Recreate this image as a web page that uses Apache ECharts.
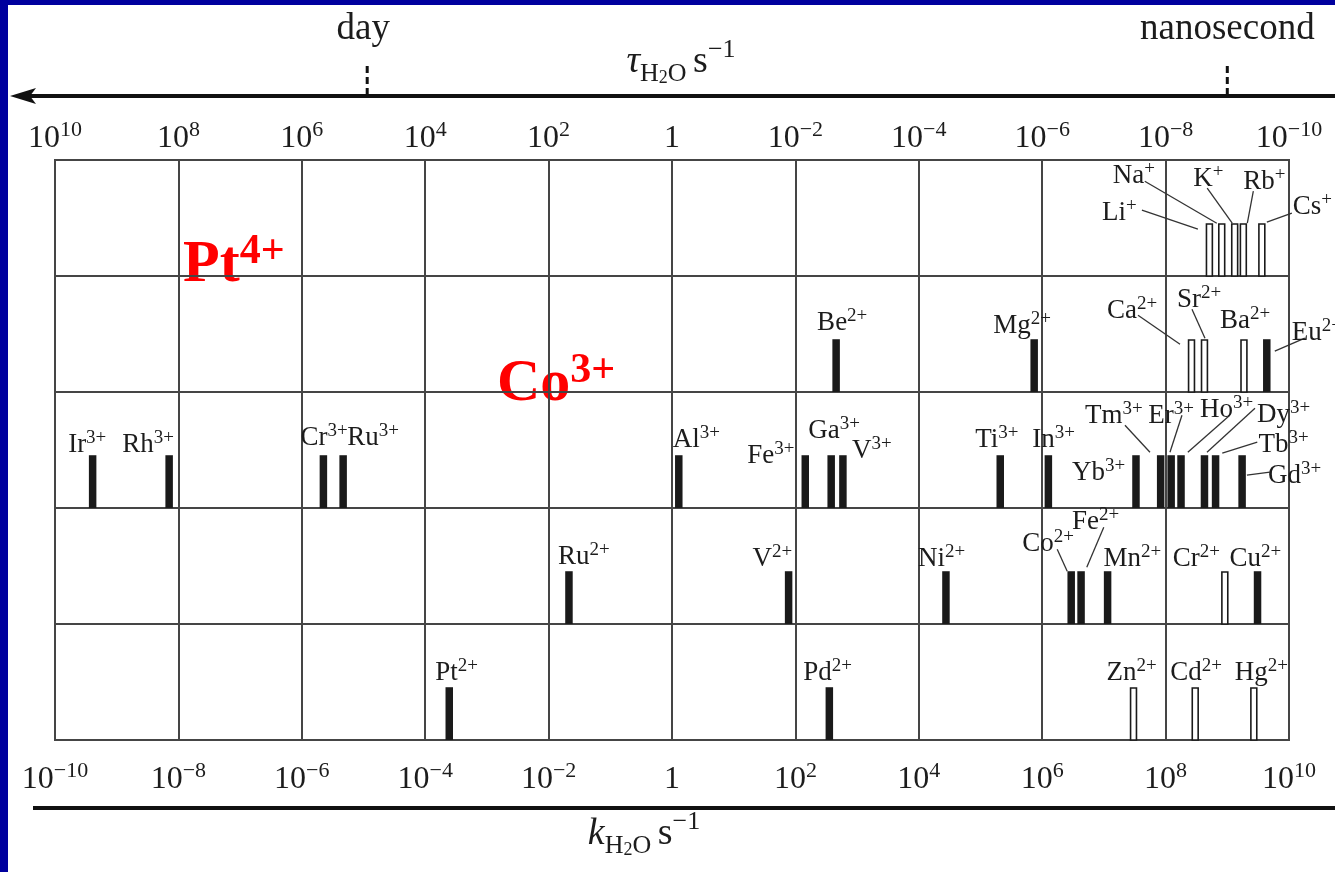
<!DOCTYPE html>
<html><head><meta charset="utf-8">
<script src="https://cdn.jsdelivr.net/npm/echarts@6/dist/echarts.min.js"></script>
<style>html,body{margin:0;padding:0;background:#fff;overflow:hidden}#c{width:1335px;height:872px}</style>
</head><body><div id="c"></div>
<script>
// ---------- DATA ----------
const ionNames   = ['Li','Na','K','Rb','Cs','Be','Mg','Ca','Sr','Ba','Eu','Ir','Rh','Cr','Ru','Al','Fe','Ga','V','Ti','In','Yb','Tm','Er','Ho','Dy','Tb','Gd','Ru','V','Ni','Co','Fe','Mn','Cr','Cu','Pt','Pd','Zn','Cd','Hg'];
const ionCharges = ['+','+','+','+','+','2+','2+','2+','2+','2+','2+','3+','3+','3+','3+','3+','3+','3+','3+','3+','3+','3+','3+','3+','3+','3+','3+','3+','2+','2+','2+','2+','2+','2+','2+','2+','2+','2+','2+','2+','2+'];
// log10 of k(H2O) in s^-1
const logK = [8.71,8.91,9.12,9.26,9.56, 2.66,5.87,8.42,8.63,9.27,9.64,
  -9.39,-8.15,-5.65,-5.33,0.11,2.16,2.58,2.77,5.32,6.10,7.52,7.92,8.09,8.25,8.63,8.81,9.24,
  -1.67,1.89,4.44,6.47,6.63,7.06,8.96,9.49,
  -3.61,2.55,7.48,8.48,9.43];
const rowIndex = [0,0,0,0,0, 1,1,1,1,1,1,
  2,2,2,2,2,2,2,2,2,2,2,2,2,2,2,2,2,
  3,3,3,3,3,3,3,3,
  4,4,4,4,4];
const openBar = [1,1,1,1,1, 0,0,1,1,1,0,
  0,0,0,0,0,0,0,0,0,0,0,0,0,0,0,0,0,
  0,0,0,0,0,0,1,0,
  0,0,1,1,1];
const tickValues = [-10,-8,-6,-4,-2,0,2,4,6,8,10];
const timeMarkerNames = ['day','nanosecond'];
const timeMarkerLogK = [-4.94, 9];
const annotationNames = ['Pt','Co'];
const annotationCharges = ['4+','3+'];

// ---------- LAYOUT (pixel offsets of labels relative to bar top) ----------
const labelLayout = [
 [-107.5,-3,[-67.5,-13,-11.5,6]],[-109,-40,[-77,-42,-5,0]],[-41.5,-37,[-27.5,-35,-2.5,0]],[0,-34,[10,-32,4,0]],[31,-9,[30,-10,5,-1]],
 [-19,-9],[-41,-6],[-84.5,-21,[-53.5,-24,-11.5,5]],[-27.5,-32,[-12.5,-30,0.5,-1]],[-24,-11],[25,1,[38,-1,8,12]],
 [-24.5,-3],[-47,-3],[-23,-10],[4,-10],[-6,-8],[-58,8],[-23,-17],[9,3],[-25,-8],[-16,-8],[-64,25],
 [-75.7,-32,[-35.7,-30,-10.7,-3]],[-23,-32,[10.8,-40,-1.2,-3]],[19,-38,[48.8,-40,6.8,-3]],[52.5,-33,[50.5,-47,2.5,-3]],[43,-3,[41.7,-13,6.7,-2]],[26,28,[27.8,17,4.8,20]],
 [-11,-7],[-36,-5],[-28,-5],[-49,-20,[-14,-22,-4,0]],[-9,-42,[22.7,-44,5.7,-4]],[-4,-5],[-52,-5],[-28,-5],
 [-14,-7],[-26,-7],[-27,-7],[-25,-7],[-19,-7]
];
const SERIF = '"Liberation Serif","Times New Roman",serif';
const INK = '#1c1c1c';
const RED = '#ff0000';
const BAR_FRAC = 0.455;
const BASE_SHIFT = 6;

const ionRich = {
  b: {fontFamily: SERIF, fontSize: 27, fill: INK, lineHeight: 30, verticalAlign: 'bottom'},
  s: {fontFamily: SERIF, fontSize: 19, fill: INK, lineHeight: 14, verticalAlign: 'top'}
};
const tickRich = {
  b: {fontFamily: SERIF, fontSize: 32, color: INK, lineHeight: 36, verticalAlign: 'bottom'},
  s: {fontFamily: SERIF, fontSize: 22, color: INK, lineHeight: 14, verticalAlign: 'top'}
};
function powLabel(v) {
  if (v === 0) return '{b|1}';
  return '{b|10}{s|' + (v < 0 ? '\u2212' + (-v) : v) + '}';
}

const ionData = ionNames.map((n, i) => [logK[i], rowIndex[i], openBar[i]]);

function renderIon(params, api) {
  const i = params.dataIndex;
  const lk = api.value(0), r = api.value(1);
  const base = api.coord([lk, r + 1]);
  const top = api.coord([lk, r + 1 - BAR_FRAC]);
  const w = 7.5;
  const kids = [];
  const L = labelLayout[i];
  if (L[2]) {
    const p = L[2];
    kids.push({type: 'line', shape: {x1: base[0] + p[0], y1: top[1] + p[1], x2: base[0] + p[2], y2: top[1] + p[3]},
      style: {stroke: '#333', lineWidth: 1.3}});
  }
  if (api.value(2) === 1) {
    kids.push({type: 'rect', shape: {x: base[0] - w / 2 + 0.8, y: top[1] + 0.8, width: w - 1.6, height: base[1] - top[1] - 0.8},
      style: {fill: '#fff', stroke: '#1a1a1a', lineWidth: 1.6}});
  } else {
    kids.push({type: 'rect', shape: {x: base[0] - w / 2, y: top[1], width: w, height: base[1] - top[1]},
      style: {fill: '#1a1a1a'}});
  }
  kids.push({type: 'text', x: base[0] + L[0], y: top[1] + L[1] + BASE_SHIFT,
    style: {text: '{b|' + ionNames[i] + '}{s|' + ionCharges[i] + '}', rich: ionRich, fill: INK, align: 'left', verticalAlign: 'bottom'}});
  return {type: 'group', children: kids};
}

function renderMarker(params, api) {
  const i = params.dataIndex;
  const p = api.coord([api.value(0), 0]);
  return {type: 'group', children: [
    {type: 'line', shape: {x1: p[0], y1: 66, x2: p[0], y2: 95}, style: {stroke: '#111', lineWidth: 3, lineDash: [7, 4]}},
    {type: 'text', x: p[0] - 4 * (i === 0 ? 1 : 0), y: 29,
      style: {text: timeMarkerNames[i], fontFamily: SERIF, fontSize: 37, fill: INK, align: 'center', verticalAlign: 'middle'}}
  ]};
}

const titleRich = {
  it: {fontFamily: SERIF, fontSize: 38, fontStyle: 'italic', fill: INK, lineHeight: 50, verticalAlign: 'middle'},
  sub: {fontFamily: SERIF, fontSize: 26, fill: INK, lineHeight: 20, verticalAlign: 'bottom'},
  sub2: {fontFamily: SERIF, fontSize: 18, fill: INK, lineHeight: 6, verticalAlign: 'bottom'},
  n: {fontFamily: SERIF, fontSize: 38, fill: INK, lineHeight: 50, verticalAlign: 'middle'},
  sup: {fontFamily: SERIF, fontSize: 26, fill: INK, lineHeight: 8, verticalAlign: 'top'}
};
const redRich = {
  b: {fontFamily: SERIF, fontSize: 60, fontWeight: 'bold', fill: RED, lineHeight: 64, verticalAlign: 'bottom'},
  s: {fontFamily: SERIF, fontSize: 42, fontWeight: 'bold', fill: RED, lineHeight: 30, verticalAlign: 'top'}
};

const chart = echarts.init(document.getElementById('c'), null, {renderer: 'canvas'});
chart.setOption({
  backgroundColor: '#fff',
  animation: false,
  grid: {left: 55, right: 46, top: 160, bottom: 132, containLabel: false, outerBoundsMode: 'none',
    show: true, borderColor: '#454545', borderWidth: 2},
  xAxis: [
    {type: 'value', position: 'bottom', min: -10, max: 10, interval: 2,
      axisLine: {show: false}, axisTick: {show: false},
      splitLine: {show: true, lineStyle: {color: '#454545', width: 2}},
      axisLabel: {margin: 20, formatter: v => powLabel(v), rich: tickRich}},
    {type: 'value', position: 'top', min: -10, max: 10, interval: 2,
      axisLine: {show: false}, axisTick: {show: false}, splitLine: {show: false},
      axisLabel: {margin: 5, formatter: v => powLabel(v === 0 ? 0 : -v), rich: tickRich}}
  ],
  yAxis: {type: 'value', min: 0, max: 5, interval: 1, inverse: true,
    axisLine: {show: false}, axisTick: {show: false}, axisLabel: {show: false},
    splitLine: {show: true, lineStyle: {color: '#454545', width: 2}}},
  graphic: [
    {type: 'rect', shape: {x: 0, y: 0, width: 1335, height: 5}, style: {fill: '#00009e'}, z: 100},
    {type: 'rect', shape: {x: 0, y: 0, width: 8, height: 872}, style: {fill: '#00009e'}, z: 100},
    {type: 'line', shape: {x1: 24, y1: 96, x2: 1335, y2: 96}, style: {stroke: '#111', lineWidth: 4}},
    {type: 'polygon', shape: {points: [[10, 96], [36, 88], [30, 96], [36, 104]]}, style: {fill: '#111'}},
    {type: 'line', shape: {x1: 33, y1: 808, x2: 1335, y2: 808}, style: {stroke: '#111', lineWidth: 4}},
    {type: 'text', x: 681, y: 37, style: {text: '{it|\u03c4}{sub|H}{sub2|2}{sub|O }{n|s}{sup|\u22121}', rich: titleRich, fill: INK, align: 'center', verticalAlign: 'top'}},
    {type: 'text', x: 644, y: 809, style: {text: '{it|k}{sub|H}{sub2|2}{sub|O }{n|s}{sup|\u22121}', rich: titleRich, fill: INK, align: 'center', verticalAlign: 'top'}},
    {type: 'text', x: 183, y: 283 - 52, style: {text: '{b|' + annotationNames[0] + '}{s|' + annotationCharges[0] + '}', rich: redRich, fill: RED, align: 'left', verticalAlign: 'top'}},
    {type: 'text', x: 497, y: 402 - 52, style: {text: '{b|' + annotationNames[1] + '}{s|' + annotationCharges[1] + '}', rich: redRich, fill: RED, align: 'left', verticalAlign: 'top'}}
  ],
  series: [
    {type: 'custom', xAxisIndex: 0, yAxisIndex: 0, clip: false, renderItem: renderIon, data: ionData, z: 5},
    {type: 'custom', xAxisIndex: 0, yAxisIndex: 0, clip: false, renderItem: renderMarker,
      data: timeMarkerLogK.map(v => [v, 0]), z: 5}
  ]
});
</script></body></html>
